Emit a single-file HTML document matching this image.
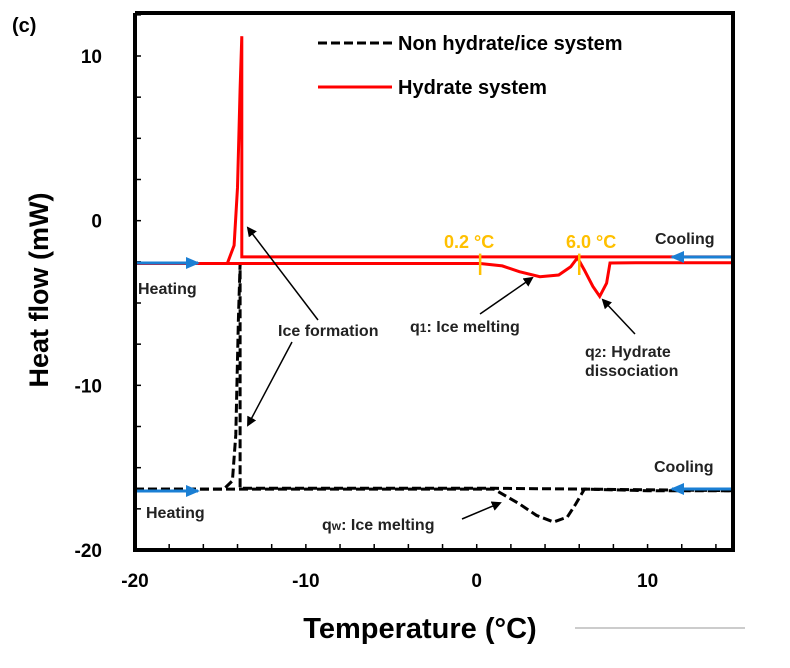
<!DOCTYPE html>
<html><head><meta charset="utf-8"><style>
body{margin:0;background:#fff;}
svg text{font-family:"Liberation Sans",sans-serif;}
</style></head><body>
<svg id="chart" width="790" height="663" viewBox="0 0 790 663" xmlns="http://www.w3.org/2000/svg">
<defs>
<marker id="ah" markerWidth="10" markerHeight="10" refX="8" refY="5" orient="auto" markerUnits="userSpaceOnUse"><path d="M0,0 L10,5 L0,10 z" fill="#000"/></marker>
<marker id="bh" markerWidth="14" markerHeight="12" refX="12" refY="6" orient="auto" markerUnits="userSpaceOnUse"><path d="M0,0 L14,6 L0,12 z" fill="#1a7fd4"/></marker>
</defs>
<g id="plot"></g>
<text x="12" y="32" font-size="20" font-weight="bold">(c)</text>
<g>
<line x1="318" y1="43" x2="392" y2="43" stroke="#000" stroke-width="3" stroke-dasharray="9,4"/>
<text x="398" y="50" font-size="20" font-weight="bold">Non hydrate/ice system</text>
<line x1="318" y1="87" x2="392" y2="87" stroke="#f00" stroke-width="3"/>
<text x="398" y="94" font-size="20" font-weight="bold">Hydrate system</text>
</g>
<text transform="translate(48,290) rotate(-90)" text-anchor="middle" font-size="27" font-weight="bold">Heat flow (mW)</text>
<text x="420" y="638" text-anchor="middle" font-size="29" font-weight="bold">Temperature (°C)</text>
<line x1="575" y1="628" x2="745" y2="628" stroke="#ccc" stroke-width="2"/>
<g font-size="16" font-weight="bold" fill="#222">
<text x="444" y="248" fill="#FFC000" font-size="18">0.2 °C</text>
<text x="566" y="248" fill="#FFC000" font-size="18">6.0 °C</text>
<text x="655" y="244">Cooling</text>
<text x="138" y="294">Heating</text>
<text x="278" y="336">Ice formation</text>
<text x="410" y="332">q<tspan font-size="12">1</tspan>: Ice melting</text>
<text x="585" y="357">q<tspan font-size="12">2</tspan>: Hydrate</text>
<text x="585" y="376">dissociation</text>
<text x="654" y="472">Cooling</text>
<text x="146" y="518">Heating</text>
<text x="322" y="530">q<tspan font-size="12">w</tspan>: Ice melting</text>
</g>
<g stroke="#000" stroke-width="1.5" marker-end="url(#ah)">
<line x1="318" y1="320" x2="248" y2="228"/>
<line x1="292" y1="342" x2="248" y2="425"/>
<line x1="480" y1="314" x2="532" y2="278"/>
<line x1="635" y1="334" x2="603" y2="300"/>
<line x1="462" y1="519" x2="500" y2="503"/>
</g>
<g stroke="#1a7fd4" stroke-width="3" marker-end="url(#bh)">
<line x1="137" y1="263" x2="198" y2="263"/>
<line x1="731" y1="257" x2="672" y2="257"/>
<line x1="137" y1="491" x2="198" y2="491"/>
<line x1="731" y1="489" x2="672" y2="489"/>
</g>
</svg>
<script>
const xTicks=[-20,-10,0,10];
const yTicks=[-20,-10,0,10];
const redHeatT=[-20,0.2,1.5,2.5,3.7,4.8,5.5,5.9,6.3,6.8,7.2,7.6,7.8,10,15];
const redHeatV=[-2.6,-2.6,-2.75,-3.1,-3.4,-3.3,-2.8,-2.25,-3.0,-4.0,-4.6,-3.8,-2.57,-2.55,-2.55];
const redCoolT=[15,-13.75,-13.75,-13.85,-14.0,-14.2,-14.6,-20];
const redCoolV=[-2.2,-2.2,11.2,8,2,-1.5,-2.6,-2.6];
const blkHeatT=[-20,1,2.5,3.5,4.5,5.3,5.8,6.3,10,15];
const blkHeatV=[-16.3,-16.3,-17.2,-17.9,-18.3,-18.0,-17.2,-16.3,-16.4,-16.4];
const blkCoolT=[15,6.3,1,-13.85,-13.85,-13.95,-14.1,-14.3,-14.8,-20];
const blkCoolV=[-16.4,-16.3,-16.25,-16.25,-2.6,-6,-13,-15.8,-16.3,-16.3];
const onsets=[0.2,6.0];
const X0=135,X1=733,Y0=550,Y1=56;
const xs=t=>X0+(t+20)*(X1-X0)/35;
const ys=v=>Y0-(v+20)*(Y0-Y1)/30;
const NS="http://www.w3.org/2000/svg";
const g=document.getElementById('plot');
function mk(tag,attrs){const e=document.createElementNS(NS,tag);for(const k in attrs)e.setAttribute(k,attrs[k]);g.appendChild(e);return e;}
function path(T,V){return T.map((t,i)=>(i?'L':'M')+xs(t).toFixed(1)+','+ys(V[i]).toFixed(1)).join(' ');}
let p;
p=mk('path',{d:path(blkHeatT,blkHeatV),fill:'none',stroke:'#000','stroke-width':3,'stroke-dasharray':'9,4'});


p=mk('path',{d:path(blkCoolT,blkCoolV),fill:'none',stroke:'#000','stroke-width':3,'stroke-dasharray':'9,4'});


p=mk('path',{d:path(redHeatT,redHeatV),fill:'none',stroke:'#f00','stroke-width':3});


p=mk('path',{d:path(redCoolT,redCoolV),fill:'none',stroke:'#f00','stroke-width':3});


onsets.forEach(t=>{const l=mk('line',{x1:xs(t),x2:xs(t),y1:ys(-2.0),y2:ys(-3.3),stroke:'#FFC000','stroke-width':2.5});

});
const fr=mk('path',{d:`M${X0},13 L${X0},${Y0} L${X1},${Y0} L${X1},13 L${X0},13`,fill:'none',stroke:'#000','stroke-width':4});


for(let t=-20;t<=15;t+=2){const l=mk('line',{x1:xs(t),x2:xs(t),y1:Y0,y2:Y0-6,stroke:'#000','stroke-width':1.5});

}
for(let v=-20;v<=12.5;v+=2.5){const l=mk('line',{x1:X0,x2:X0+6,y1:ys(v),y2:ys(v),stroke:'#000','stroke-width':1.5});

}
xTicks.forEach(t=>{const e=mk('text',{x:xs(t),y:587,'text-anchor':'middle','font-size':19,'font-weight':'bold'});e.textContent=t;

});
yTicks.forEach(v=>{const e=mk('text',{x:102,y:ys(v)+7,'text-anchor':'end','font-size':19,'font-weight':'bold'});e.textContent=v;

});
</script>
</body></html>
